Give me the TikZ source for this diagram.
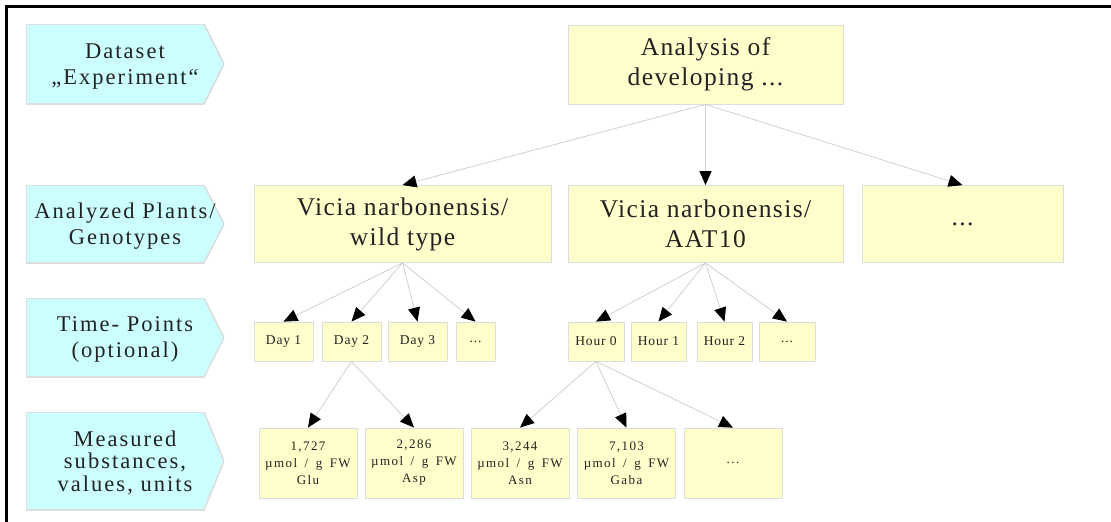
\documentclass[tikz,border=0pt]{standalone}
\usepackage{fontspec}
\setmainfont{Liberation Serif}
\newfontfamily\lblfont[LetterSpace=9]{Liberation Serif}
\newfontfamily\bigfont[LetterSpace=5.5]{Liberation Serif}
\newfontfamily\smallfont[LetterSpace=6]{Liberation Serif}
\newfontfamily\valfont[LetterSpace=11,WordSpace=1.6]{Liberation Serif}
\usetikzlibrary{arrows.meta}

\definecolor{lblcyan}{HTML}{CCFFFF}
\definecolor{boxyellow}{HTML}{FFFFCC}
\definecolor{rimgray}{HTML}{DDDDDD}
\definecolor{linkgray}{HTML}{D0D0D0}
\definecolor{ink}{HTML}{222222}

\begin{document}
\begin{tikzpicture}[x=1pt,y=-1pt,
  % pentagon-shaped level label: box with a 20pt point on its right side
  levelbox/.style={rectangle, minimum width=198pt, inner sep=0pt,
    align=center, text=ink, text depth=0pt,
    font=\lblfont\fontsize{22.5}{26}\selectfont,
    path picture={\filldraw[fill=lblcyan, draw=rimgray, line width=1.6pt]
      (path picture bounding box.north west)
      -- ([xshift=-20pt]path picture bounding box.north east)
      -- (path picture bounding box.east)
      -- ([xshift=-20pt]path picture bounding box.south east)
      -- (path picture bounding box.south west) -- cycle;}},
  yelbox/.style={rectangle, fill=boxyellow, draw=rimgray, line width=0.8pt,
    inner sep=0pt, align=center, text=ink},
  bigbox/.style={yelbox, minimum height=77pt,
    font=\bigfont\fontsize{25.5}{30}\selectfont},
  timebox/.style={yelbox, minimum height=39pt,
    font=\smallfont\fontsize{13.5}{16}\selectfont},
  valbox/.style={yelbox, minimum width=98pt, minimum height=70pt,
    font=\valfont\fontsize{13}{17}\selectfont},
  link/.style={draw=linkgray, line width=0.8pt,
    -{Triangle[length=14pt,width=12pt,color=black]}}
]
\useasboundingbox (0,0) rectangle (1111,522);

% frame
\draw[line width=2.6pt, line cap=rect] (6.5,522) -- (6.5,6.5) -- (1111,6.5);

% level labels
\node[levelbox, minimum height=80pt] (lv1) at (125,64)
  {Dataset\\„Experiment“};
\node[levelbox, minimum height=78pt] (lv2) at (125,224)
  {Analyzed Plants/\\Genotypes};
\node[levelbox, minimum height=79pt] (lv3) at (125,337.5)
  {Time- Points\\(optional)};
\node[levelbox, minimum height=98pt, font=\lblfont\fontsize{22.5}{22.5}\selectfont] (lv4) at (125,461)
  {Measured\\substances,\\values, units};

% experiment
\node[bigbox, minimum width=275pt, minimum height=79pt] (exp) at (705.5,64.5)
  {Analysis of\\developing ...};

% plants / genotypes
\node[bigbox, minimum width=297pt] (wt) at (402.5,224)
  {Vicia narbonensis/\\wild type};
\node[bigbox, minimum width=275pt] (aat) at (705.5,224)
  {Vicia narbonensis/\\AAT10};
\node[bigbox, minimum width=201pt] (gmore) at (962.5,224) {...};

% time points
\node[timebox, minimum width=59pt] (d1) at (283.5,341.5) {Day 1};
\node[timebox, minimum width=59pt] (d2) at (351.5,341.5) {Day 2};
\node[timebox, minimum width=59pt] (d3) at (417.5,341.5) {Day 3};
\node[timebox, minimum width=39pt] (dmore) at (475.5,341.5) {...};
\node[timebox, minimum width=56pt] (h0) at (596,341.5) {Hour 0};
\node[timebox, minimum width=55pt] (h1) at (658.5,341.5) {Hour 1};
\node[timebox, minimum width=55pt] (h2) at (724.5,341.5) {Hour 2};
\node[timebox, minimum width=56pt] (hmore) at (787,341.5) {...};

% measured values
\node[valbox] (glu) at (308,463) {1,727\\µmol / g FW\\Glu};
\node[valbox] (asp) at (414,463) {2,286\\µmol / g FW\\Asp};
\node[valbox] (asn) at (520,463) {3,244\\µmol / g FW\\Asn};
\node[valbox] (gaba) at (626.5,463) {7,103\\µmol / g FW\\Gaba};
\node[valbox] (vmore) at (733,463) {...};

% connectors
\foreach \t in {wt,aat,gmore} \draw[link] (exp.south) -- (\t.north);
\foreach \t in {d1,d2,d3,dmore} \draw[link] (wt.south) -- (\t.north);
\foreach \t in {h0,h1,h2,hmore} \draw[link] (aat.south) -- (\t.north);
\foreach \t in {glu,asp} \draw[link] (d2.south) -- (\t.north);
\foreach \t in {asn,gaba,vmore} \draw[link] (h0.south) -- (\t.north);
\end{tikzpicture}
\end{document}
